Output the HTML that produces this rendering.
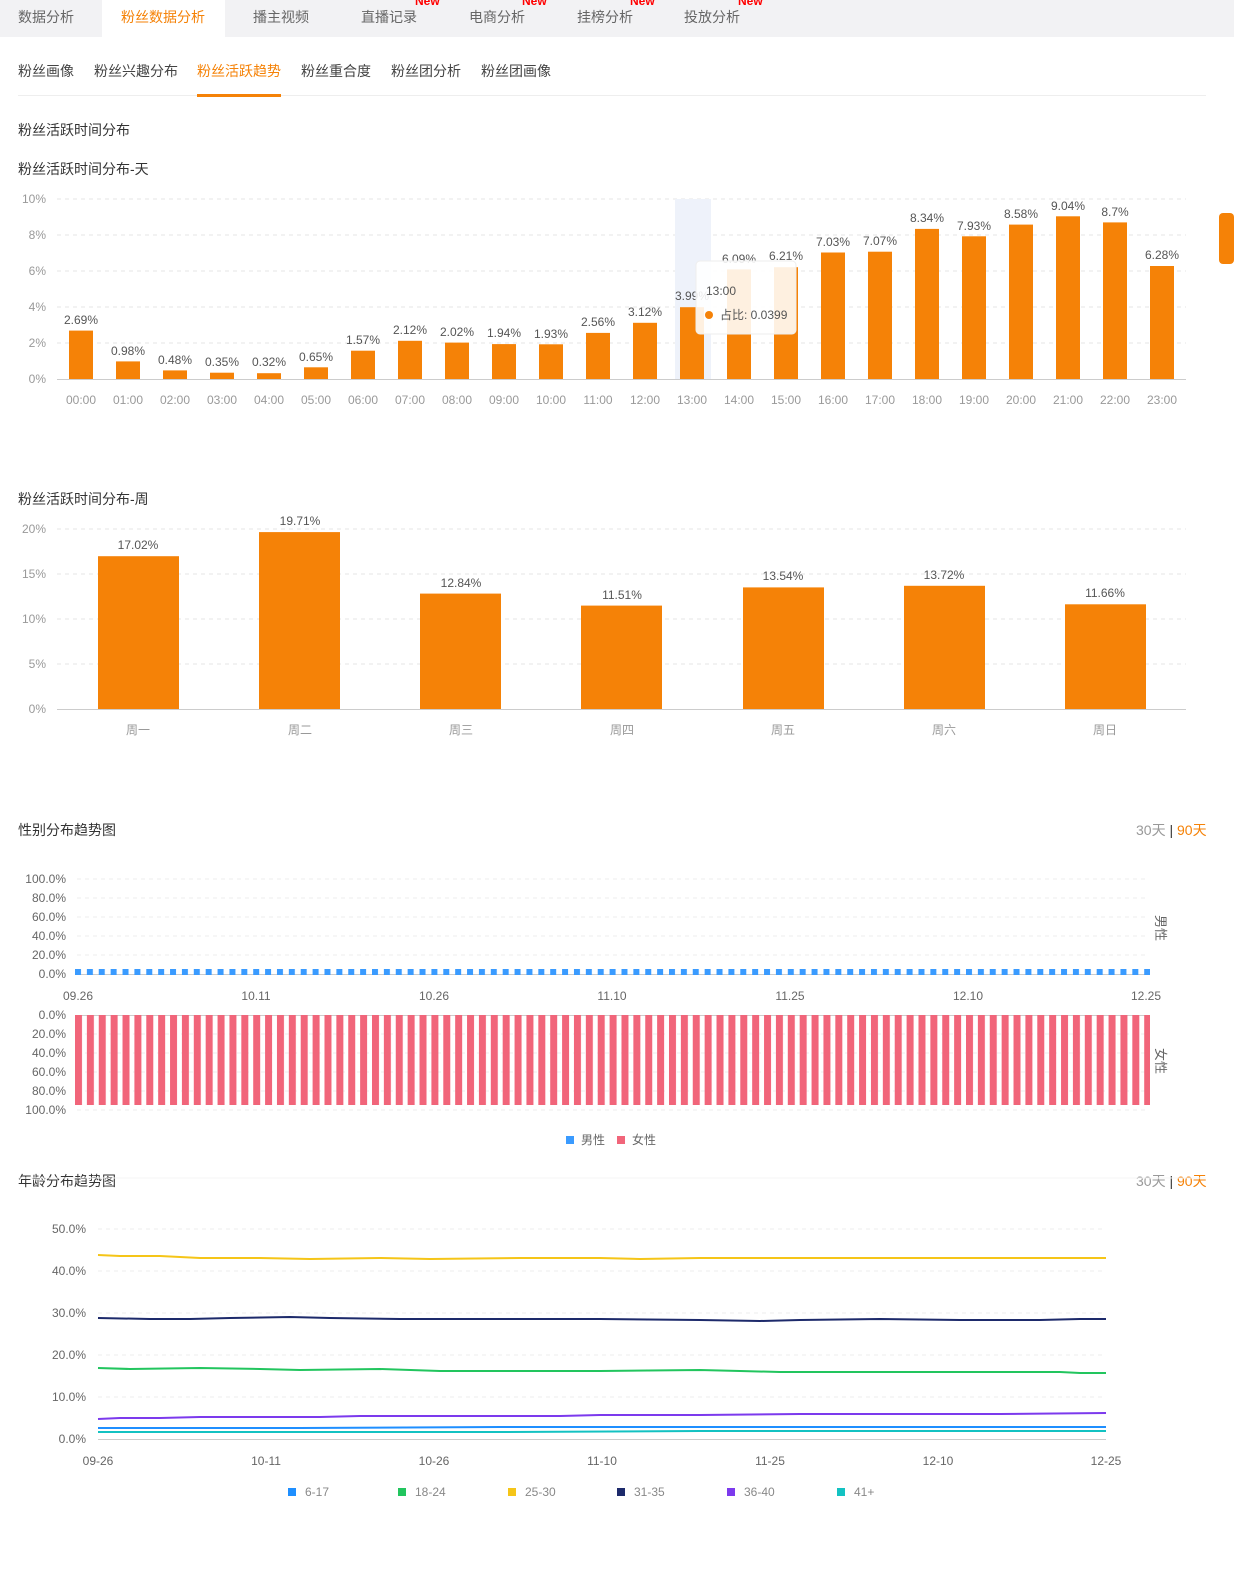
<!DOCTYPE html>
<html><head><meta charset="utf-8"><style>
body{margin:0;width:1234px;height:1572px;background:#fff;font-family:"Liberation Sans","Noto Sans CJK SC",sans-serif;overflow:hidden}
svg text{font-family:"Liberation Sans","Noto Sans CJK SC",sans-serif}
</style></head><body>
<svg width="1234" height="1572" viewBox="0 0 1234 1572" xmlns="http://www.w3.org/2000/svg">
<defs>
<pattern id="pb" x="75" y="0" width="11.88" height="1572" patternUnits="userSpaceOnUse"><rect x="0" y="0" width="6" height="1572" fill="#3a9bff"/></pattern>
<pattern id="pr" x="75" y="0" width="11.88" height="1572" patternUnits="userSpaceOnUse"><rect x="0" y="0" width="7" height="1572" fill="#f1657a"/></pattern>
</defs>
<!-- top tabs -->
<rect x="0" y="0" width="1234" height="37" fill="#f2f2f4"/>
<rect x="102" y="0" width="123" height="37" fill="#fff"/>
<g font-size="14" fill="#666">
<text x="18" y="22">数据分析</text>
<text x="121" y="22" fill="#f58207">粉丝数据分析</text>
<text x="253" y="22">播主视频</text>
<text x="361" y="22">直播记录</text>
<text x="469" y="22">电商分析</text>
<text x="577" y="22">挂榜分析</text>
<text x="684" y="22">投放分析</text>
</g>
<g font-size="12" font-weight="bold" fill="#f00">
<text x="415" y="5">New</text><text x="522" y="5">New</text><text x="630" y="5">New</text><text x="738" y="5">New</text>
</g>
<g font-size="14" fill="#444">
<text x="18" y="76">粉丝画像</text><text x="94" y="76">粉丝兴趣分布</text>
<text x="197" y="76" fill="#f58207">粉丝活跃趋势</text>
<text x="301" y="76">粉丝重合度</text><text x="391" y="76">粉丝团分析</text><text x="481" y="76">粉丝团画像</text>
</g>
<rect x="18" y="95" width="1188" height="1" fill="#eee"/>
<rect x="197" y="94" width="84" height="3" fill="#f58207"/>
<rect x="1219" y="213" width="15" height="51" rx="4" fill="#f58207"/>
<g font-size="14" fill="#333">
<text x="18" y="135">粉丝活跃时间分布</text>
<text x="18" y="174">粉丝活跃时间分布-天</text>
<text x="18" y="504">粉丝活跃时间分布-周</text>
<text x="18" y="835">性别分布趋势图</text>
<text x="18" y="1186">年龄分布趋势图</text>
</g>
<g font-size="14"><text x="1136" y="835" fill="#999">30天 <tspan fill="#333">|</tspan> <tspan fill="#f58207">90天</tspan></text>
<text x="1136" y="1186" fill="#999">30天 <tspan fill="#333">|</tspan> <tspan fill="#f58207">90天</tspan></text></g>

<!-- chart 1 -->
<g stroke="#e6e6e6" stroke-dasharray="4,4"><line x1="57" x2="1186" y1="199" y2="199"/><line x1="57" x2="1186" y1="235" y2="235"/><line x1="57" x2="1186" y1="271" y2="271"/><line x1="57" x2="1186" y1="307" y2="307"/><line x1="57" x2="1186" y1="343" y2="343"/></g>
<line x1="57" x2="1186" y1="379.5" y2="379.5" stroke="#ccc"/>
<rect x="675" y="199" width="36" height="180" fill="#eef2fa"/>
<g font-size="12" fill="#999" text-anchor="end"><text x="46" y="203">10%</text><text x="46" y="239">8%</text><text x="46" y="275">6%</text><text x="46" y="311">4%</text><text x="46" y="347">2%</text><text x="46" y="383">0%</text></g>
<g fill="#f58207">
<rect x="69" y="330.6" width="24" height="48.4"/><rect x="116" y="361.4" width="24" height="17.6"/><rect x="163" y="370.4" width="24" height="8.6"/><rect x="210" y="372.7" width="24" height="6.3"/><rect x="257" y="373.2" width="24" height="5.8"/><rect x="304" y="367.3" width="24" height="11.7"/><rect x="351" y="350.7" width="24" height="28.3"/><rect x="398" y="340.8" width="24" height="38.2"/><rect x="445" y="342.6" width="24" height="36.4"/><rect x="492" y="344.1" width="24" height="34.9"/><rect x="539" y="344.3" width="24" height="34.7"/><rect x="586" y="332.9" width="24" height="46.1"/><rect x="633" y="322.8" width="24" height="56.2"/><rect x="680" y="307.2" width="24" height="71.8"/><rect x="727" y="269.4" width="24" height="109.6"/><rect x="774" y="267.2" width="24" height="111.8"/><rect x="821" y="252.5" width="24" height="126.5"/><rect x="868" y="251.7" width="24" height="127.3"/><rect x="915" y="228.9" width="24" height="150.1"/><rect x="962" y="236.3" width="24" height="142.7"/><rect x="1009" y="224.6" width="24" height="154.4"/><rect x="1056" y="216.3" width="24" height="162.7"/><rect x="1103" y="222.4" width="24" height="156.6"/><rect x="1150" y="266" width="24" height="113"/>
</g>
<g font-size="12" fill="#555" text-anchor="middle">
<text x="81" y="324">2.69%</text><text x="128" y="355">0.98%</text><text x="175" y="364">0.48%</text><text x="222" y="366">0.35%</text><text x="269" y="366">0.32%</text><text x="316" y="361">0.65%</text><text x="363" y="344">1.57%</text><text x="410" y="334">2.12%</text><text x="457" y="336">2.02%</text><text x="504" y="337">1.94%</text><text x="551" y="338">1.93%</text><text x="598" y="326">2.56%</text><text x="645" y="316">3.12%</text><text x="692" y="300">3.99%</text><text x="739" y="263">6.09%</text><text x="786" y="260">6.21%</text><text x="833" y="246">7.03%</text><text x="880" y="245">7.07%</text><text x="927" y="222">8.34%</text><text x="974" y="230">7.93%</text><text x="1021" y="218">8.58%</text><text x="1068" y="210">9.04%</text><text x="1115" y="216">8.7%</text><text x="1162" y="259">6.28%</text>
</g>
<g font-size="12" fill="#999" text-anchor="middle">
<text x="81" y="404">00:00</text><text x="128" y="404">01:00</text><text x="175" y="404">02:00</text><text x="222" y="404">03:00</text><text x="269" y="404">04:00</text><text x="316" y="404">05:00</text><text x="363" y="404">06:00</text><text x="410" y="404">07:00</text><text x="457" y="404">08:00</text><text x="504" y="404">09:00</text><text x="551" y="404">10:00</text><text x="598" y="404">11:00</text><text x="645" y="404">12:00</text><text x="692" y="404">13:00</text><text x="739" y="404">14:00</text><text x="786" y="404">15:00</text><text x="833" y="404">16:00</text><text x="880" y="404">17:00</text><text x="927" y="404">18:00</text><text x="974" y="404">19:00</text><text x="1021" y="404">20:00</text><text x="1068" y="404">21:00</text><text x="1115" y="404">22:00</text><text x="1162" y="404">23:00</text>
</g>
<rect x="696" y="261" width="100" height="73" rx="4" fill="#fff" fill-opacity="0.88" stroke="#eee"/>
<text x="706" y="295" font-size="12" fill="#555">13:00</text>
<circle cx="709" cy="315" r="4" fill="#f58207"/>
<text x="720" y="319" font-size="12" fill="#555">占比: 0.0399</text>

<!-- chart 2 -->
<g stroke="#e6e6e6" stroke-dasharray="4,4"><line x1="57" x2="1186" y1="529" y2="529"/><line x1="57" x2="1186" y1="574" y2="574"/><line x1="57" x2="1186" y1="619" y2="619"/><line x1="57" x2="1186" y1="664" y2="664"/></g>
<line x1="57" x2="1186" y1="709.5" y2="709.5" stroke="#ccc"/>
<g font-size="12" fill="#999" text-anchor="end"><text x="46" y="533">20%</text><text x="46" y="578">15%</text><text x="46" y="623">10%</text><text x="46" y="668">5%</text><text x="46" y="713">0%</text></g>
<g fill="#f58207">
<rect x="98" y="556.2" width="81" height="152.8"/><rect x="259" y="532.1" width="81" height="176.9"/><rect x="420" y="593.6" width="81" height="115.4"/><rect x="581" y="605.6" width="81" height="103.4"/><rect x="743" y="587.4" width="81" height="121.6"/><rect x="904" y="585.8" width="81" height="123.2"/><rect x="1065" y="604.3" width="81" height="104.7"/>
</g>
<g font-size="12" fill="#555" text-anchor="middle"><text x="138" y="549">17.02%</text><text x="300" y="525">19.71%</text><text x="461" y="587">12.84%</text><text x="622" y="599">11.51%</text><text x="783" y="580">13.54%</text><text x="944" y="579">13.72%</text><text x="1105" y="597">11.66%</text></g>
<g font-size="12" fill="#999" text-anchor="middle"><text x="138" y="734">周一</text><text x="300" y="734">周二</text><text x="461" y="734">周三</text><text x="622" y="734">周四</text><text x="783" y="734">周五</text><text x="944" y="734">周六</text><text x="1105" y="734">周日</text></g>

<!-- gender -->
<g stroke="#eee" stroke-dasharray="4,4"><line x1="77" x2="1148" y1="879" y2="879"/><line x1="77" x2="1148" y1="898" y2="898"/><line x1="77" x2="1148" y1="917" y2="917"/><line x1="77" x2="1148" y1="936" y2="936"/><line x1="77" x2="1148" y1="955" y2="955"/>
<line x1="77" x2="1148" y1="1034" y2="1034"/><line x1="77" x2="1148" y1="1053" y2="1053"/><line x1="77" x2="1148" y1="1072" y2="1072"/><line x1="77" x2="1148" y1="1091" y2="1091"/><line x1="77" x2="1148" y1="1110" y2="1110"/></g>
<line x1="77" x2="1148" y1="974.5" y2="974.5" stroke="#ccc"/>
<line x1="77" x2="1148" y1="1015.5" y2="1015.5" stroke="#ccc"/>
<rect x="75" y="969" width="1075" height="6" fill="url(#pb)"/>
<rect x="75" y="1015" width="1075" height="90" fill="url(#pr)"/>
<g font-size="12" fill="#666" text-anchor="end">
<text x="66" y="883">100.0%</text><text x="66" y="902">80.0%</text><text x="66" y="921">60.0%</text><text x="66" y="940">40.0%</text><text x="66" y="959">20.0%</text><text x="66" y="978">0.0%</text>
<text x="66" y="1019">0.0%</text><text x="66" y="1038">20.0%</text><text x="66" y="1057">40.0%</text><text x="66" y="1076">60.0%</text><text x="66" y="1095">80.0%</text><text x="66" y="1114">100.0%</text>
</g>
<g font-size="12" fill="#666" text-anchor="middle"><text x="78" y="1000">09.26</text><text x="256" y="1000">10.11</text><text x="434" y="1000">10.26</text><text x="612" y="1000">11.10</text><text x="790" y="1000">11.25</text><text x="968" y="1000">12.10</text><text x="1146" y="1000">12.25</text></g>
<text font-size="13" fill="#666" transform="translate(1156,915) rotate(90)">男性</text>
<text font-size="13" fill="#666" transform="translate(1156,1048) rotate(90)">女性</text>
<rect x="566" y="1136" width="8" height="8" fill="#3a9bff"/><text x="581" y="1144" font-size="12" fill="#666">男性</text>
<rect x="617" y="1136" width="8" height="8" fill="#f1657a"/><text x="632" y="1144" font-size="12" fill="#666">女性</text>
<line x1="18" x2="1206" y1="1178" y2="1178" stroke="#f4f4f4"/>

<!-- age -->
<g stroke="#eee" stroke-dasharray="4,4"><line x1="98" x2="1106" y1="1229" y2="1229"/><line x1="98" x2="1106" y1="1271" y2="1271"/><line x1="98" x2="1106" y1="1313" y2="1313"/><line x1="98" x2="1106" y1="1355" y2="1355"/><line x1="98" x2="1106" y1="1397" y2="1397"/></g>
<line x1="98" x2="1106" y1="1439.5" y2="1439.5" stroke="#ccc"/>
<g font-size="12" fill="#666" text-anchor="end"><text x="86" y="1233">50.0%</text><text x="86" y="1275">40.0%</text><text x="86" y="1317">30.0%</text><text x="86" y="1359">20.0%</text><text x="86" y="1401">10.0%</text><text x="86" y="1443">0.0%</text></g>
<g fill="none" stroke-width="2">
<polyline stroke="#f5c518" points="98,1255 120,1256 160,1256 200,1258 260,1258 310,1259 380,1258 430,1259 520,1258 600,1258 640,1259 700,1258 780,1258 850,1258 930,1258 1000,1258 1106,1258"/>
<polyline stroke="#1d2a6b" points="98,1318 150,1319 190,1319 230,1318 290,1317 330,1318 400,1319 500,1319 600,1319 700,1320 760,1321 800,1320 880,1319 960,1320 1040,1320 1080,1319 1106,1319"/>
<polyline stroke="#22c55e" points="98,1368 130,1369 200,1368 260,1369 300,1370 380,1369 440,1371 520,1371 600,1371 700,1370 740,1371 780,1372 860,1372 960,1372 1060,1372 1080,1373 1106,1373"/>
<polyline stroke="#7c3aed" points="98,1419 120,1418 160,1418 200,1417 320,1417 360,1416 460,1416 560,1416 600,1415 700,1415 800,1414 900,1414 1000,1414 1106,1413"/>
<polyline stroke="#1f8fff" points="98,1428 300,1428 500,1427 700,1427 900,1427 1106,1427"/>
<polyline stroke="#13c2c2" points="98,1432 300,1432 500,1432 700,1431 900,1431 1106,1431"/>
</g>
<g font-size="12" fill="#666" text-anchor="middle"><text x="98" y="1465">09-26</text><text x="266" y="1465">10-11</text><text x="434" y="1465">10-26</text><text x="602" y="1465">11-10</text><text x="770" y="1465">11-25</text><text x="938" y="1465">12-10</text><text x="1106" y="1465">12-25</text></g>
<g font-size="12" fill="#888">
<rect x="288" y="1488" width="8" height="8" fill="#1f8fff"/><text x="305" y="1496">6-17</text>
<rect x="398" y="1488" width="8" height="8" fill="#22c55e"/><text x="415" y="1496">18-24</text>
<rect x="508" y="1488" width="8" height="8" fill="#f5c518"/><text x="525" y="1496">25-30</text>
<rect x="617" y="1488" width="8" height="8" fill="#1d2a6b"/><text x="634" y="1496">31-35</text>
<rect x="727" y="1488" width="8" height="8" fill="#7c3aed"/><text x="744" y="1496">36-40</text>
<rect x="837" y="1488" width="8" height="8" fill="#13c2c2"/><text x="854" y="1496">41+</text>
</g>
</svg>
</body></html>
